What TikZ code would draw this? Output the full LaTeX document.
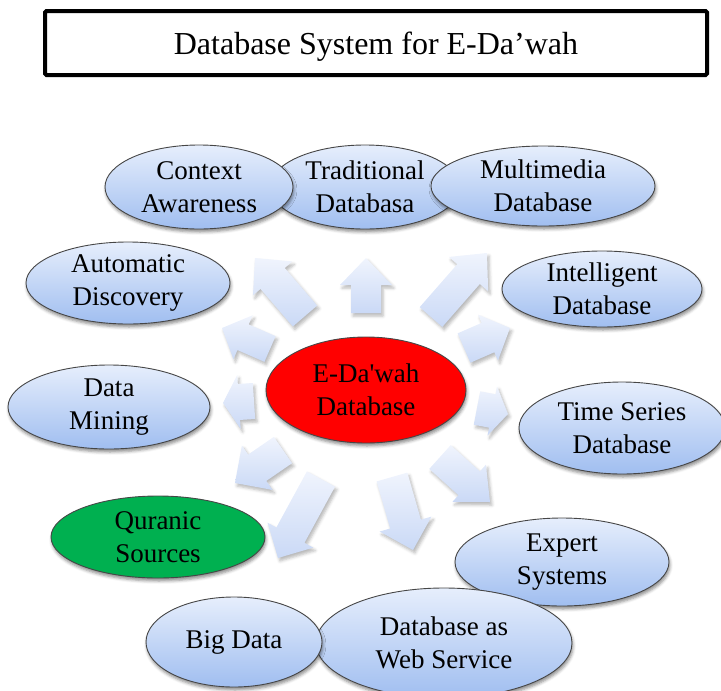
\documentclass[tikz,border=0pt]{standalone}
\usepackage{fontspec}
\setmainfont{Liberation Serif}
\newfontfamily\labelfont{Liberation Serif}
\usetikzlibrary{shapes.geometric,shadows.blur,calc}

\definecolor{bubbletop}{RGB}{230,238,252}
\definecolor{bubblebot}{RGB}{160,190,240}
\definecolor{arrowtop}{RGB}{240,244,253}
\definecolor{arrowbot}{RGB}{202,217,246}
\definecolor{rim}{RGB}{70,70,70}
\definecolor{quran}{RGB}{0,176,80}

\tikzset{
  softshadow/.style={blur shadow={shadow xshift=1pt, shadow yshift=-3pt,
      shadow blur radius=3pt, shadow opacity=45}},
  oval/.style={ellipse, draw=rim, line width=0.9pt, inner sep=0pt, softshadow},
  bubble/.style={oval, top color=bubbletop, bottom color=bubblebot},
  hub/.style={oval, fill=red},
  source/.style={oval, fill=quran},
  caption/.style={align=center, font=\labelfont\fontsize{27}{33}\selectfont},
  arrowbody/.style={top color=arrowtop, bottom color=arrowbot,
      blur shadow={shadow xshift=2pt, shadow yshift=-3pt,
      shadow blur radius=3pt, shadow opacity=28}},
  titlebox/.style={draw, line width=4pt, rounded corners=1.5pt,
      minimum width=662pt, minimum height=64pt, inner sep=0pt,
      font=\fontsize{32}{38}\selectfont}
}

% block arrow: name, tail, tip, shaft half width, head half width, head length
\newcommand\blockarrow[6]{%
  \coordinate (#1-t) at #2;
  \coordinate (#1-p) at #3;
  \coordinate (#1-h) at ($(#1-p)!#6!(#1-t)$);
  \path[arrowbody]
    ($(#1-t)!#4!90:(#1-p)$) -- ($(#1-h)!#4!-90:(#1-t)$) --
    ($(#1-h)!#5!-90:(#1-t)$) -- (#1-p) --
    ($(#1-h)!#5!90:(#1-t)$) -- ($(#1-h)!#4!90:(#1-t)$) --
    ($(#1-t)!#4!-90:(#1-p)$) -- cycle;
}

\newcommand\bubblenode[7]{% style, name, x, y, half width, half height, text
  \node[#1, minimum width=#5*2pt, minimum height=#6*2pt,
        label={[caption]center:{#7}}] (#2) at (#3,#4) {};
}

\begin{document}
\begin{tikzpicture}[x=1pt, y=-1pt]
  \useasboundingbox (0,0) rectangle (721,691);

  % title
  \node[titlebox] (title) at (376,43)
    {\raisebox{-4pt}[\height][\depth]{Database System for E-Da’wah}};

  % surrounding topics
  \bubblenode{bubble}{trad}{365}{187}{95}{42}{Traditional\\Databasa}
  \bubblenode{bubble}{context}{199}{187}{94}{42}{Context\\Awareness}
  \bubblenode{bubble}{multi}{543}{186}{112}{40}{Multimedia\\Database}
  \bubblenode{bubble}{intel}{602}{289}{100}{38}{Intelligent\\Database}
  \bubblenode{bubble}{auto}{128}{283}{102}{41}{Automatic\\Discovery}
  \bubblenode{bubble}{mining}{109}{407}{101}{42}{Data\\Mining}
  \bubblenode{bubble}{series}{622}{428}{103}{46}{Time Series\\Database}
  \bubblenode{source}{quran}{158}{537}{107}{41}{Quranic\\Sources}
  \bubblenode{bubble}{expert}{562}{562}{107}{44}{Expert\\Systems}
  \bubblenode{bubble}{web}{444}{643}{128}{55}{Database as\\Web Service}
  \bubblenode{bubble}{big}{234}{642}{88}{45}{Big Data}

  % central database
  \bubblenode{hub}{hub}{366}{390}{100}{53}{E-Da'wah\\Database}

  % arrows radiating from the centre
  \blockarrow{a1}{(305,316)}{(255,258)}{16pt}{26pt}{27pt}
  \blockarrow{a2}{(366,313)}{(366,258)}{15pt}{26pt}{27pt}
  \blockarrow{a3}{(431,317)}{(487,253)}{15pt}{26pt}{28pt}
  \blockarrow{a4}{(464,348)}{(510,328)}{16pt}{25pt}{24pt}
  \blockarrow{a5}{(477,408)}{(508,414)}{17pt}{25pt}{16pt}
  \blockarrow{a6}{(440,457)}{(490,502)}{16pt}{25pt}{28pt}
  \blockarrow{a7}{(392,477)}{(413,550)}{16pt}{27pt}{27pt}
  \blockarrow{a8}{(321,479)}{(278,558)}{16pt}{26pt}{26pt}
  \blockarrow{a9}{(283,450)}{(235,483)}{16pt}{27pt}{27pt}
  \blockarrow{a10}{(254,401)}{(223,403)}{18pt}{27pt}{16pt}
  \blockarrow{a11}{(270,349)}{(222,328)}{14pt}{24pt}{23pt}
\end{tikzpicture}
\end{document}
